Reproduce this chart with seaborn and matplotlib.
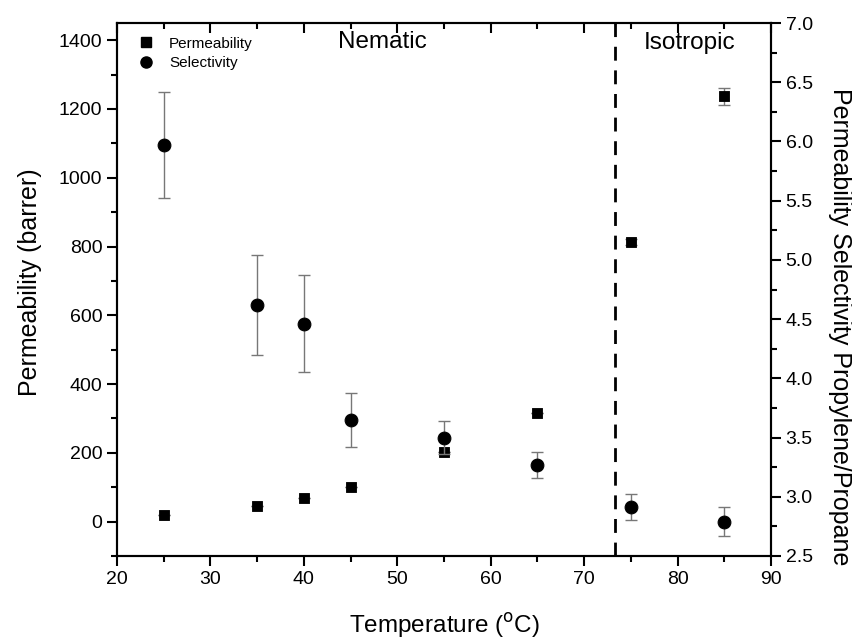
import matplotlib
matplotlib.use("Agg")
import matplotlib.pyplot as plt
import seaborn as sns
import numpy as np
import pandas as pd
from matplotlib.ticker import MultipleLocator, FormatStrFormatter
from matplotlib.lines import Line2D

# Data
temperature = [25, 35, 40, 45, 55, 65, 75, 85]
permeability = [18, 46, 70, 100, 203, 317, 813, 1237]
perm_err = [0, 0, 0, 0, 0, 0, 10, 25]
selectivity = [5.97, 4.62, 4.46, 3.65, 3.50, 3.27, 2.91, 2.79]
sel_err = [0.45, 0.42, 0.41, 0.23, 0.14, 0.11, 0.11, 0.12]
transition_temp = 73.3

sns.set_theme(style="white")
plt.rcParams['font.family'] = ['Liberation Sans', 'DejaVu Sans']
plt.rcParams['text.color'] = 'black'
plt.rcParams['axes.labelcolor'] = 'black'
plt.rcParams['xtick.color'] = 'black'
plt.rcParams['ytick.color'] = 'black'

df = pd.DataFrame({"T": temperature, "P": permeability, "Pe": perm_err,
                   "S": selectivity, "Se": sel_err})

fig = plt.figure(figsize=(8.52, 6.39), dpi=100)
ax = fig.add_axes([117/852, 1-556/639, (771-117)/852, (556-23)/639])
ax2 = ax.twinx()

# error bars
ax.errorbar(df["T"], df["P"], yerr=df["Pe"], fmt="none", ecolor="#777777",
            elinewidth=1, capsize=4, capthick=1, zorder=2)
ax2.errorbar(df["T"], df["S"], yerr=df["Se"], fmt="none", ecolor="#777777",
             elinewidth=1, capsize=4, capthick=1, zorder=2)

sns.scatterplot(data=df, x="T", y="P", ax=ax, marker="s", s=60, color="black",
                edgecolor="black", zorder=3, legend=False)
sns.scatterplot(data=df, x="T", y="S", ax=ax2, marker="o", s=85, color="black",
                edgecolor="black", zorder=3, legend=False)

ax.axvline(transition_temp, color="black", lw=2, ls=(0, (5, 3.5)))

ax.set_xlim(20, 90)
ax.set_ylim(-100, 1450)
ax2.set_ylim(2.5, 7.0)

ax.xaxis.set_major_locator(MultipleLocator(10))
ax.xaxis.set_minor_locator(MultipleLocator(5))
ax.yaxis.set_major_locator(MultipleLocator(200))
ax.yaxis.set_minor_locator(MultipleLocator(100))
ax2.yaxis.set_major_locator(MultipleLocator(0.5))
ax2.yaxis.set_minor_locator(MultipleLocator(0.25))
ax2.yaxis.set_major_formatter(FormatStrFormatter("%.1f"))

ax.tick_params(axis="x", which="both", direction="out", top=True, bottom=True,
               labelsize=14, width=1.5, colors="black")
ax.tick_params(axis="x", which="major", length=7)
ax.tick_params(axis="x", which="minor", length=4)
ax.tick_params(axis="y", which="both", direction="out", left=True, right=False,
               labelsize=14, width=1.5, colors="black")
ax.tick_params(axis="y", which="major", length=7)
ax.tick_params(axis="y", which="minor", length=4)
ax2.tick_params(axis="y", which="both", direction="out", right=True,
                labelsize=14, width=1.5, colors="black")
ax2.tick_params(axis="y", which="major", length=7)
ax2.tick_params(axis="y", which="minor", length=4)
# top ticks point inward
for t in ax.xaxis.get_major_ticks() + ax.xaxis.get_minor_ticks():
    t.tick2line.set_marker(3)

for a in (ax, ax2):
    for sp in a.spines.values():
        sp.set_linewidth(1.5)
        sp.set_color("black")

ax.set_xlabel("Temperature ($^{\\rm o}$C)", fontsize=17.5, labelpad=17)
ax.set_ylabel("Permeability (barrer)", fontsize=18, labelpad=12)
ax2.set_ylabel("Permeability Selectivity Propylene/Propane", fontsize=18,
               rotation=-90, labelpad=28)
ax.yaxis.label.set_y(0.514)
ax2.yaxis.label.set_y(0.43)

ax.text(48.4, 1395, "Nematic", fontsize=17.5, ha="center", va="center")
ax.text(81.3, 1393, "Isotropic", fontsize=17.5, ha="center", va="center")

handles = [Line2D([], [], marker="s", ls="none", color="black", markersize=7),
           Line2D([], [], marker="o", ls="none", color="black", markersize=8)]
ax.legend(handles, ["Permeability", "Selectivity"], loc="upper left",
          frameon=False, fontsize=11, handletextpad=0.5, borderaxespad=0.5,
          labelspacing=0.35, bbox_to_anchor=(0.0, 1.0))

fig.savefig("out.png", dpi=100)
